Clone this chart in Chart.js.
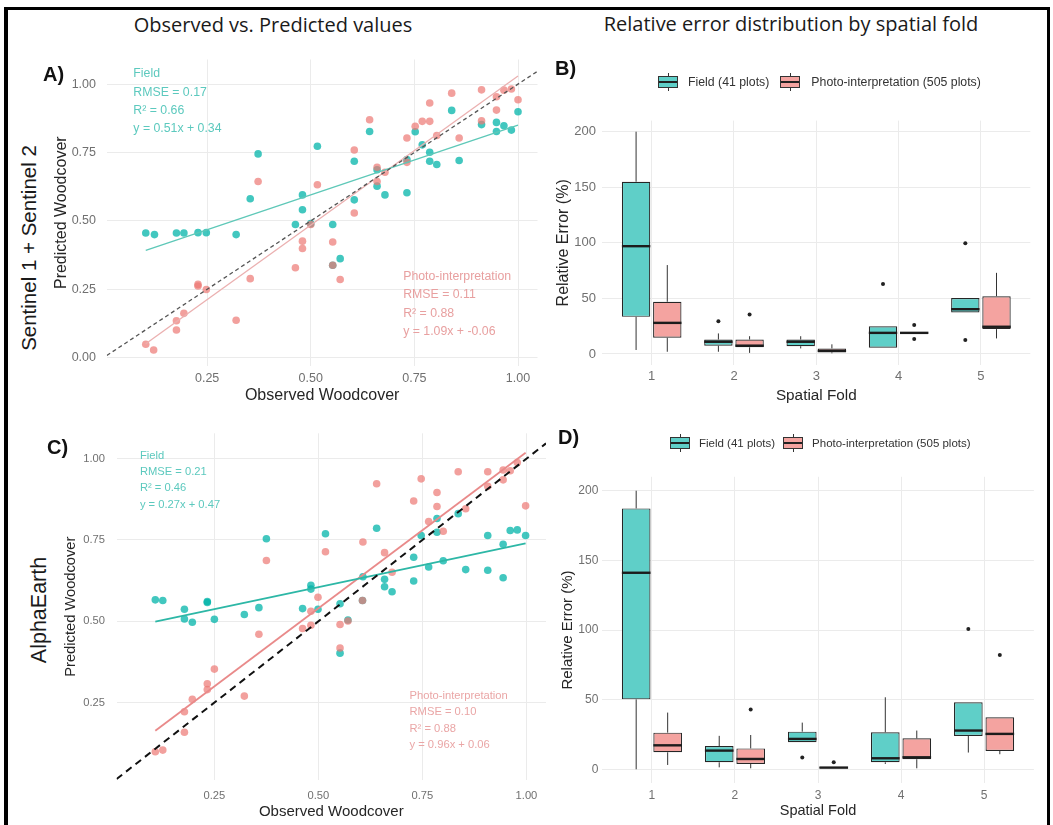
<!DOCTYPE html>
<html lang="en">
<head>
<meta charset="utf-8">
<title>Woodcover: observed vs predicted and relative error by fold</title>
<script src="https://cdn.jsdelivr.net/npm/chart.js@4.4.1/dist/chart.umd.min.js"></script>
<style>
  html, body { margin: 0; padding: 0; }
  body { width: 1053px; height: 825px; position: relative; overflow: hidden; background: #fff;
         font-family: "Liberation Sans", Arial, sans-serif; color: #222; }
  canvas { position: absolute; }
  .frame { position: absolute; left: 4px; top: 7px; width: 1039px; height: 830px;
           border: 3px solid #000; border-left-width: 4px; }
  .txt { position: absolute; white-space: nowrap; transform: translate(-50%, -50%); }
  .head { font-family: "Open Sans", sans-serif; font-size: 20px; color: #1a1a1a; }
  .tag { position: absolute; font-weight: bold; font-size: 20px; color: #111; transform: translateY(-50%); }
  .row { font-size: 20.5px; color: #1a1a1a; transform: translate(-50%, -50%) rotate(-90deg); }
  .legend { position: absolute; display: flex; align-items: center; color: #333; transform: translateY(-50%); white-space: nowrap; }
  .key { position: relative; display: inline-block; width: 20px; height: 18px; }
  .key::before { content: ""; position: absolute; left: 9.5px; top: 0; width: 1px; height: 18px; background: #333; }
  .key b { position: absolute; left: 0; top: 3px; width: 18px; height: 10px; border: 1px solid #333; }
  .key b::after { content: ""; position: absolute; left: 0; right: 0; top: 4px; height: 2px; background: #222; }
</style>
</head>
<body>
<div class="frame"></div>

<div class="txt head" style="left:273px;top:24px">Observed vs. Predicted values</div>
<div class="txt head" style="left:791px;top:23px">Relative error distribution by spatial fold</div>

<div class="txt row" style="left:29px;top:248px">Sentinel 1 + Sentinel 2</div>
<div class="txt row" style="left:39px;top:610px;font-size:21.5px">AlphaEarth</div>

<canvas id="chartA"></canvas>
<canvas id="chartB"></canvas>
<canvas id="chartC"></canvas>
<canvas id="chartD"></canvas>

<div class="tag" style="left:43px;top:74px">A)</div>
<div class="tag" style="left:555px;top:68px">B)</div>
<div class="tag" style="left:47px;top:447px">C)</div>
<div class="tag" style="left:558px;top:437px">D)</div>

<div class="legend" style="left:658px;top:82px;font-size:12.3px">
  <span class="key"><b class="kf"></b></span><span style="margin:0 11px 0 10px">Field (41 plots)</span>
  <span class="key"><b class="kp"></b></span><span style="margin-left:11px">Photo-interpretation (505 plots)</span>
</div>
<div class="legend" style="left:670px;top:443px;font-size:11.5px">
  <span class="key"><b class="kf"></b></span><span style="margin:0 8px 0 9px">Field (41 plots)</span>
  <span class="key"><b class="kp"></b></span><span style="margin-left:9px">Photo-interpretation (505 plots)</span>
</div>

<script>
// ------------------------------------------------------
// Data
// ------------------------------------------------------

// A) Sentinel 1 + Sentinel 2
const aFieldObs  = [0.102, 0.123, 0.176, 0.194, 0.228, 0.248, 0.320, 0.354, 0.373, 0.463, 0.480, 0.480, 0.500,
                    0.516, 0.553, 0.571, 0.553, 0.605, 0.605, 0.642, 0.660, 0.660, 0.679, 0.732, 0.732, 0.752,
                    0.769, 0.787, 0.787, 0.804, 0.840, 0.858, 0.912, 0.948, 0.948, 0.966, 0.984, 1.000];
const aFieldPred = [0.456, 0.450, 0.456, 0.456, 0.457, 0.457, 0.450, 0.581, 0.745, 0.487, 0.541, 0.595, 0.490,
                    0.773, 0.487, 0.362, 0.338, 0.577, 0.718, 0.827, 0.627, 0.687, 0.595, 0.603, 0.724, 0.826,
                    0.778, 0.751, 0.718, 0.706, 0.904, 0.721, 0.852, 0.827, 0.860, 0.848, 0.832, 0.899];
const aPhotoObs  = [0.102, 0.121, 0.176, 0.176, 0.194, 0.228, 0.228, 0.248, 0.320, 0.354, 0.373, 0.463, 0.480,
                    0.480, 0.500, 0.516, 0.553, 0.553, 0.571, 0.605, 0.605, 0.642, 0.660, 0.660, 0.679, 0.732,
                    0.732, 0.752, 0.769, 0.787, 0.787, 0.804, 0.840, 0.858, 0.912, 0.912, 0.948, 0.948, 0.966,
                    0.984, 1.000];
const aPhotoPred = [0.049, 0.028, 0.101, 0.135, 0.162, 0.262, 0.268, 0.249, 0.137, 0.289, 0.644, 0.329, 0.426,
                    0.399, 0.487, 0.632, 0.423, 0.338, 0.286, 0.529, 0.759, 0.870, 0.696, 0.644, 0.678, 0.803,
                    0.714, 0.846, 0.864, 0.864, 0.931, 0.812, 0.967, 0.803, 0.979, 0.866, 0.954, 0.905, 0.978,
                    0.982, 0.943];
const aFieldFit = [0.51, 0.34];    // slope, intercept
const aPhotoFit = [1.09, -0.06];
const aFieldText = ['Field', 'RMSE = 0.17', 'R\u00b2 = 0.66', 'y = 0.51x + 0.34'];
const aPhotoText = ['Photo-interpretation', 'RMSE = 0.11', 'R\u00b2 = 0.88', 'y = 1.09x + -0.06'];

// C) AlphaEarth
const cFieldObs  = [0.108, 0.126, 0.178, 0.178, 0.197, 0.233, 0.233, 0.250, 0.322, 0.357, 0.375, 0.462, 0.482,
                    0.482, 0.499, 0.517, 0.552, 0.552, 0.571, 0.606, 0.607, 0.640, 0.659, 0.659, 0.677, 0.729,
                    0.729, 0.747, 0.765, 0.785, 0.785, 0.800, 0.836, 0.854, 0.907, 0.907, 0.944, 0.944, 0.961,
                    0.978, 0.998];
const cFieldPred = [0.566, 0.564, 0.537, 0.507, 0.497, 0.561, 0.558, 0.506, 0.521, 0.542, 0.754, 0.539, 0.611,
                    0.599, 0.537, 0.769, 0.554, 0.402, 0.504, 0.564, 0.637, 0.786, 0.629, 0.606, 0.591, 0.697,
                    0.624, 0.764, 0.667, 0.816, 0.774, 0.686, 0.831, 0.659, 0.764, 0.657, 0.737, 0.634, 0.779,
                    0.781, 0.764];
const cPhotoObs  = [0.108, 0.126, 0.178, 0.178, 0.197, 0.233, 0.233, 0.250, 0.322, 0.357, 0.375, 0.462, 0.482,
                    0.482, 0.499, 0.517, 0.552, 0.552, 0.571, 0.606, 0.607, 0.640, 0.659, 0.677, 0.729, 0.747,
                    0.765, 0.785, 0.785, 0.800, 0.836, 0.854, 0.907, 0.907, 0.944, 0.944, 0.961, 0.978, 0.998];
const cPhotoPred = [0.099, 0.104, 0.222, 0.159, 0.260, 0.308, 0.290, 0.353, 0.270, 0.460, 0.687, 0.478, 0.531,
                    0.488, 0.574, 0.714, 0.490, 0.418, 0.501, 0.564, 0.744, 0.923, 0.711, 0.651, 0.870, 0.938,
                    0.807, 0.896, 0.853, 0.777, 0.960, 0.846, 0.960, 0.915, 0.965, 0.935, 0.963, 0.988, 0.855];
const cFieldFit = [0.27, 0.47];
const cPhotoFit = [0.96, 0.06];
const cFieldText = ['Field', 'RMSE = 0.21', 'R\u00b2 = 0.46', 'y = 0.27x + 0.47'];
const cPhotoText = ['Photo-interpretation', 'RMSE = 0.10', 'R\u00b2 = 0.88', 'y = 0.96x + 0.06'];

const woodTicks = [0.25, 0.5, 0.75, 1.0];
const woodTicksY = [0, 0.25, 0.5, 0.75, 1.0];

// B) / D) boxplots: [lower whisker, Q1, median, Q3, upper whisker] per fold
const folds = [1, 2, 3, 4, 5];
const errTicks = [0, 50, 100, 150, 200];

const bField = [[3.6, 33.4, 97, 155, 200], [2, 7.5, 11, 13, 18.5], [5, 7, 11, 13, 16],
                [5.7, 5.7, 19, 25, 25], [37.3, 37.3, 40.3, 50.4, 50.4]];
const bFieldOut = [[], [29.5], [], [63], [99.7, 12.5]];
const bPhoto = [[2, 14.6, 28, 47, 80], [1, 6, 7.5, 13, 16], [0.6, 1.5, 2.7, 5, 8.7],
                [19, 19, 19, 19, 19], [14, 22.4, 24.5, 52, 73]];
const bPhotoOut = [[], [35.5], [], [26, 13.4], []];

const dField = [[0, 50.2, 141.1, 187.3, 200], [1.4, 5, 13.4, 16.7, 24], [19.4, 19.4, 21.8, 27, 33.5],
                [3.8, 5, 7.9, 26.6, 51.7], [12, 23.9, 27.8, 48.1, 48.1]];
const dFieldOut = [[], [], [8.4], [], [100.7]];
const dPhoto = [[3.1, 12.2, 17.2, 26.3, 40.7], [0.7, 3.8, 7.4, 15, 24.6], [0.8, 0.8, 1.2, 1.7, 1.7],
                [0.7, 7.2, 8.6, 22.2, 27.8], [10.8, 13.2, 25.4, 37.3, 37.3]];
const dPhotoOut = [[], [43], [5], [], [82]];

// ------------------------------------------------------
// Look
// ------------------------------------------------------
const FONT = '"Liberation Sans", Arial, sans-serif';
const GRID = '#ebebeb', TICK = '#707070', AXIS = '#262626';
const TEAL = 'rgba(0,180,168,0.74)', PINK = 'rgba(236,120,116,0.7)';
const TEAL_BOX = '#5fcfc8', PINK_BOX = '#f4a3a0';

Chart.defaults.font.family = FONT;
Chart.defaults.animation = false;

document.querySelectorAll('.kf').forEach(el => el.style.background = TEAL_BOX);
document.querySelectorAll('.kp').forEach(el => el.style.background = PINK_BOX);

const toPts = (xs, ys) => xs.map((x, i) => ({ x, y: ys[i] }));
const fitLine = (fit, xs) => {
  const lo = Math.min(...xs), hi = Math.max(...xs);
  return [{ x: lo, y: fit[0] * lo + fit[1] }, { x: hi, y: fit[0] * hi + fit[1] }];
};

// pin the chart area of a canvas to a fixed rectangle of the page
function place(id, box, area) {
  const c = document.getElementById(id);
  c.width = box.w; c.height = box.h;
  c.style.left = box.x + 'px'; c.style.top = box.y + 'px';
  return {
    canvas: c,
    padding: { left: 0, top: area.top - box.y, right: box.x + box.w - area.right, bottom: 0 },
    yWidth: area.left - box.x,
    xHeight: box.y + box.h - area.bottom
  };
}

function axis(o) {
  return {
    type: 'linear', min: o.min, max: o.max, offset: false,
    afterBuildTicks: s => { s.ticks = o.ticks.map(v => ({ value: v })); },
    afterFit: s => { if (s.isHorizontal()) s.height = o.size; else s.width = o.size; },
    grid: { color: GRID, lineWidth: 1, drawTicks: false, offset: false },
    border: { display: false },
    ticks: { color: TICK, padding: o.tickPad, font: { size: o.tickSize }, callback: o.fmt },
    title: {
      display: true, text: o.title, color: AXIS, font: { size: o.titleSize },
      padding: o.horizontal ? { top: 0, bottom: o.titlePad } : { top: o.titlePad, bottom: 0 }
    }
  };
}

// stats text written at data coordinates
const statNotes = {
  id: 'statNotes',
  afterDatasetsDraw(chart, args, opts) {
    const { ctx, scales: { x, y } } = chart;
    ctx.save();
    ctx.font = opts.size + 'px ' + FONT;
    ctx.textBaseline = 'middle';
    opts.notes.forEach(n => {
      ctx.fillStyle = n.color;
      n.lines.forEach((t, i) => ctx.fillText(t, x.getPixelForValue(n.x), y.getPixelForValue(n.y) + i * opts.gap));
    });
    ctx.restore();
  }
};

// whiskers, medians and outliers on top of the Q1-Q3 bars
const boxParts = {
  id: 'boxParts',
  afterDatasetsDraw(chart, args, opts) {
    const { ctx, scales: { y } } = chart;
    ctx.save();
    opts.groups.forEach((g, di) => {
      chart.getDatasetMeta(di).data.forEach((bar, j) => {
        const [lo, q1, med, q3, hi] = g.stats[j];
        const half = bar.width / 2;
        ctx.strokeStyle = '#333';
        ctx.lineWidth = 1;
        ctx.beginPath();
        ctx.moveTo(bar.x, y.getPixelForValue(q3)); ctx.lineTo(bar.x, y.getPixelForValue(hi));
        ctx.moveTo(bar.x, y.getPixelForValue(q1)); ctx.lineTo(bar.x, y.getPixelForValue(lo));
        ctx.stroke();
        ctx.strokeStyle = '#1c1c1c';
        ctx.lineWidth = 2.4;
        ctx.beginPath();
        ctx.moveTo(bar.x - half, y.getPixelForValue(med)); ctx.lineTo(bar.x + half, y.getPixelForValue(med));
        ctx.stroke();
        ctx.fillStyle = '#222';
        g.out[j].forEach(v => {
          ctx.beginPath();
          ctx.arc(bar.x, y.getPixelForValue(v), 2, 0, Math.PI * 2);
          ctx.fill();
        });
      });
    });
    ctx.restore();
  }
};

function scatterPanel(id, box, area, d) {
  const p = place(id, box, area);
  const idLo = Math.max(d.x[0], d.y[0]), idHi = Math.min(d.x[1], d.y[1]);
  const line = (data, color, width, dash, order) => ({
    data, showLine: true, borderColor: color, borderWidth: width, borderDash: dash,
    pointRadius: 0, fill: false, order
  });
  const dots = (data, color) => ({
    data, backgroundColor: color, borderWidth: 0, pointRadius: 3.8, order: 2
  });
  new Chart(p.canvas, {
    type: 'scatter',
    data: {
      datasets: [
        line([{ x: idLo, y: idLo }, { x: idHi, y: idHi }], d.idColor, d.idWidth, d.idDash, 0),
        line(fitLine(d.fieldFit, d.fieldObs), d.fieldLine, d.fitWidth, [], 1),
        line(fitLine(d.photoFit, d.photoObs), d.photoLine, d.fitWidth, [], 1),
        dots(toPts(d.photoObs, d.photoPred), PINK),
        dots(toPts(d.fieldObs, d.fieldPred), TEAL)
      ]
    },
    options: {
      responsive: false, devicePixelRatio: 1,
      layout: { padding: p.padding },
      scales: {
        x: axis({ horizontal: true, min: d.x[0], max: d.x[1], ticks: woodTicks, size: p.xHeight,
                  tickPad: d.xTickPad, tickSize: d.tickSize, fmt: v => v.toFixed(2),
                  title: 'Observed Woodcover', titleSize: d.xTitleSize, titlePad: d.xTitlePad }),
        y: axis({ min: d.y[0], max: d.y[1], ticks: d.yTicks, size: p.yWidth,
                  tickPad: d.yTickPad, tickSize: d.tickSize, fmt: v => v.toFixed(2),
                  title: 'Predicted Woodcover', titleSize: d.yTitleSize, titlePad: d.yTitlePad })
      },
      plugins: {
        legend: { display: false }, tooltip: { enabled: false },
        statNotes: { size: d.noteSize, gap: d.noteGap, notes: [
          { x: d.fieldNote[0], y: d.fieldNote[1], color: d.fieldNoteColor, lines: d.fieldText },
          { x: d.photoNote[0], y: d.photoNote[1], color: d.photoNoteColor, lines: d.photoText }
        ] }
      }
    },
    plugins: [statNotes]
  });
}

function boxPanel(id, box, area, d) {
  const p = place(id, box, area);
  const bars = (stats, fill) => ({
    data: folds.map((f, j) => ({ x: f, y: [stats[j][1], stats[j][3]] })),
    backgroundColor: fill, borderColor: '#262626', borderWidth: 1.2, borderSkipped: false,
    categoryPercentage: 0.758, barPercentage: 0.91
  });
  new Chart(p.canvas, {
    type: 'bar',
    data: { datasets: [bars(d.field, TEAL_BOX), bars(d.photo, PINK_BOX)] },
    options: {
      responsive: false, devicePixelRatio: 1,
      layout: { padding: p.padding },
      scales: {
        x: axis({ horizontal: true, min: 0.4, max: 5.6, ticks: folds, size: p.xHeight,
                  tickPad: d.xTickPad, tickSize: d.tickSize, fmt: v => String(v),
                  title: 'Spatial Fold', titleSize: d.xTitleSize, titlePad: d.xTitlePad }),
        y: axis({ min: -10, max: 210, ticks: errTicks, size: p.yWidth,
                  tickPad: d.yTickPad, tickSize: d.tickSize, fmt: v => String(v),
                  title: 'Relative Error (%)', titleSize: d.yTitleSize, titlePad: d.yTitlePad })
      },
      plugins: {
        legend: { display: false }, tooltip: { enabled: false },
        boxParts: { groups: [{ stats: d.field, out: d.fieldOut }, { stats: d.photo, out: d.photoOut }] }
      }
    },
    plugins: [boxParts]
  });
}

scatterPanel('chartA', { x: 40, y: 40, w: 505, h: 375 },
  { left: 106.8, right: 537.5, top: 59.5, bottom: 365.9 }, {
    x: [0.008, 1.047], y: [-0.03, 1.09], yTicks: woodTicksY,
    fieldObs: aFieldObs, fieldPred: aFieldPred, photoObs: aPhotoObs, photoPred: aPhotoPred,
    fieldFit: aFieldFit, photoFit: aPhotoFit, fieldText: aFieldText, photoText: aPhotoText,
    idColor: '#555', idWidth: 1.3, idDash: [4, 3], fitWidth: 1.3,
    fieldLine: '#5ec8b8', photoLine: '#ebb0b0',
    tickSize: 12.5, xTickPad: 5, yTickPad: 10.8, xTitleSize: 16, xTitlePad: 9.7, yTitleSize: 16, yTitlePad: 12.1,
    noteSize: 12.3, noteGap: 18.2, fieldNote: [0.072, 1.037], photoNote: [0.723, 0.296],
    fieldNoteColor: '#5cc9be', photoNoteColor: '#e8a0a0'
  });

scatterPanel('chartC', { x: 40, y: 415, w: 510, h: 410 },
  { left: 116.6, right: 548, top: 421.8, bottom: 780 }, {
    x: [0.015, 1.047], y: [0.012, 1.078], yTicks: woodTicks,
    fieldObs: cFieldObs, fieldPred: cFieldPred, photoObs: cPhotoObs, photoPred: cPhotoPred,
    fieldFit: cFieldFit, photoFit: cPhotoFit, fieldText: cFieldText, photoText: cPhotoText,
    idColor: '#111', idWidth: 2, idDash: [7, 5], fitWidth: 1.8,
    fieldLine: '#2db7a6', photoLine: '#e98a8a',
    tickSize: 11.2, xTickPad: 9, yTickPad: 11.6, xTitleSize: 15, xTitlePad: 4.3, yTitleSize: 14.7, yTitlePad: 22,
    noteSize: 11.2, noteGap: 16.3, fieldNote: [0.071, 1.009], photoNote: [0.719, 0.27],
    fieldNoteColor: '#5cc9be', photoNoteColor: '#eaa6a6'
  });

boxPanel('chartB', { x: 550, y: 40, w: 495, h: 375 },
  { left: 602.3, right: 1030.3, top: 120.6, bottom: 365.1 }, {
    field: bField, fieldOut: bFieldOut, photo: bPhoto, photoOut: bPhotoOut,
    tickSize: 13, xTickPad: 3.8, yTickPad: 6.3, xTitleSize: 15.3, xTitlePad: 10.1, yTitleSize: 16, yTitlePad: 3.7
  });

boxPanel('chartD', { x: 550, y: 415, w: 495, h: 410 },
  { left: 602.1, right: 1033.9, top: 476.8, bottom: 783.2 }, {
    field: dField, fieldOut: dFieldOut, photo: dPhoto, photoOut: dPhotoOut,
    tickSize: 12, xTickPad: 5.6, yTickPad: 3.8, xTitleSize: 14.5, xTitlePad: 5.3, yTitleSize: 15, yTitlePad: 8.7
  });
</script>
</body>
</html>
